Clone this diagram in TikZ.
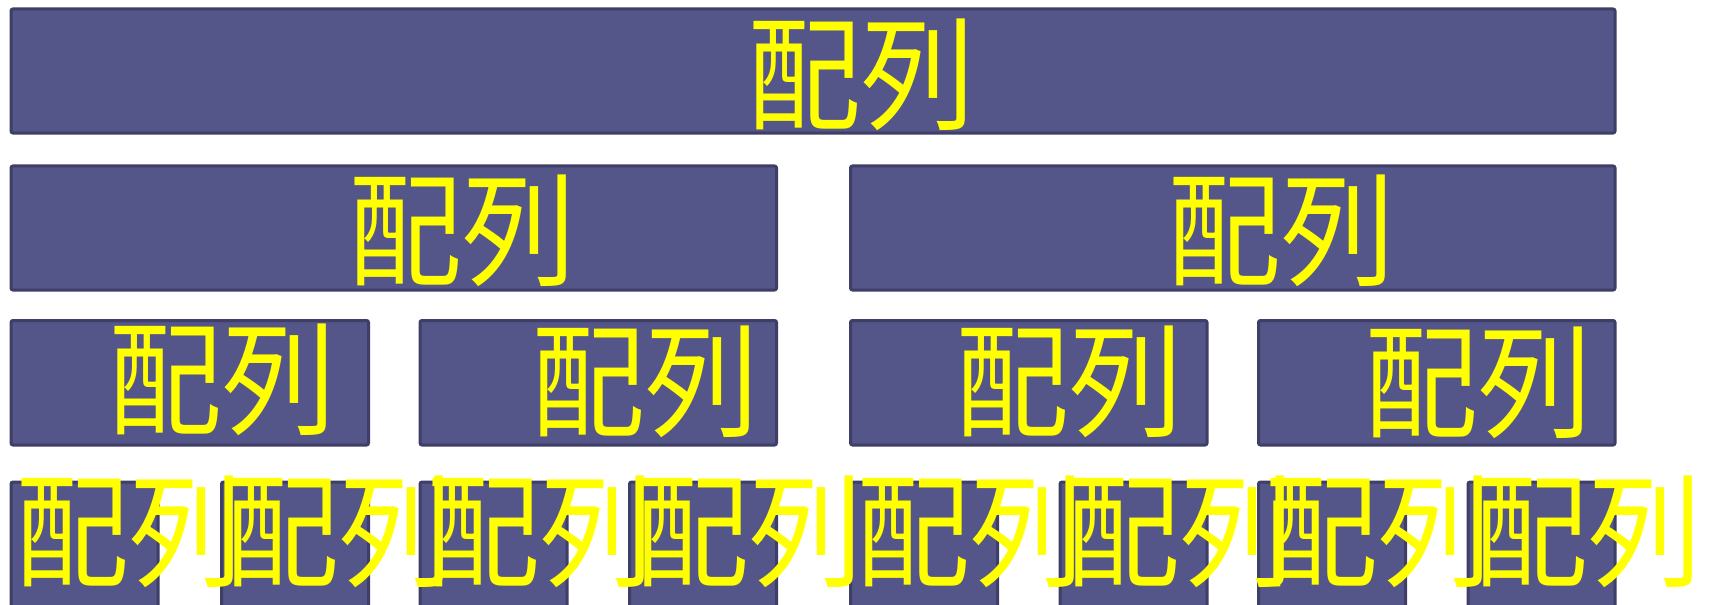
\documentclass[tikz,border=0pt]{standalone}
\usepackage{fontspec}
\usepackage{graphicx}
\newfontfamily\cjk{Noto Sans CJK JP}
\definecolor{boxfill}{RGB}{84,85,137}
\definecolor{boxline}{RGB}{62,62,102}
\definecolor{txtyellow}{RGB}{255,255,0}
\newcommand\mybox[5]{\node[box, anchor=north west, minimum width=#4bp, minimum height=#5bp] (#1) at (#2,#3) {};}
\newcommand\pl{\scalebox{1}[1.09]{配列}}
\begin{document}
\begin{tikzpicture}[x=1bp,y=-1bp,
  box/.style={draw=boxline, fill=boxfill, line width=3bp, rounded corners=2bp, inner sep=0pt, outer sep=0pt},
  lbl/.style={text=txtyellow, font=\cjk\fontsize{114}{114}\selectfont, inner sep=0pt, anchor=center}]
\useasboundingbox (0,0) rectangle (1710,605);
\clip (0,0) rectangle (1710,605);
% boxes
\mybox{a}{11}{9}{1604}{124}
\mybox{b1}{11}{166}{765.5}{124}
\mybox{b2}{850.5}{166}{764.5}{124}
\mybox{c1}{11}{320.5}{357.5}{124.5}
\mybox{c2}{420}{320.5}{356.5}{124.5}
\mybox{c3}{850.5}{320.5}{356.5}{124.5}
\mybox{c4}{1258.5}{320.5}{356.5}{124.5}
\mybox{d1}{11}{482}{147}{140}
\mybox{d2}{221.5}{482}{147}{140}
\mybox{d3}{420}{482}{147}{140}
\mybox{d4}{629.5}{482}{147}{140}
\mybox{d5}{850.5}{482}{147}{140}
\mybox{d6}{1060}{482}{147}{140}
\mybox{d7}{1258.5}{482}{147}{140}
\mybox{d8}{1468}{482}{147}{140}
% labels
\node[lbl] (ta) at (861.5,75) {\pl};
\node[lbl] (tb1) at (462,231) {\pl};
\node[lbl] (tb2) at (1281,231) {\pl};
\node[lbl] (tc1) at (222.5,380) {\pl};
\node[lbl] (tc2) at (645.5,382) {\pl};
\node[lbl] (tc3) at (1069,382) {\pl};
\node[lbl] (tc4) at (1478,383) {\pl};
\node[lbl] (td1) at (129,532) {\pl};
\node[lbl] (td2) at (339.5,532) {\pl};
\node[lbl] (td3) at (540,532) {\pl};
\node[lbl] (td4) at (749.5,532) {\pl};
\node[lbl] (td5) at (970.5,532) {\pl};
\node[lbl] (td6) at (1180,532) {\pl};
\node[lbl] (td7) at (1378.5,532) {\pl};
\node[lbl] (td8) at (1588,532) {\pl};
\end{tikzpicture}
\end{document}
